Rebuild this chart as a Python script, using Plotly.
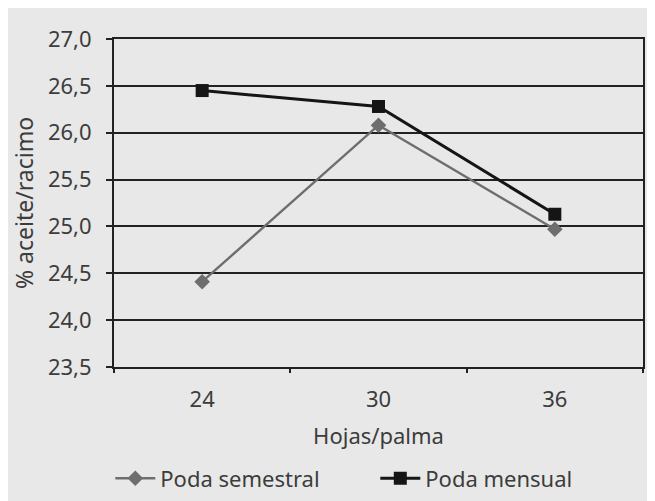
import plotly.graph_objects as go

categories = ["24", "30", "36"]
poda_semestral = [24.41, 26.08, 24.97]
poda_mensual = [26.45, 26.28, 25.13]
y_ticks = [23.5, 24.0, 24.5, 25.0, 25.5, 26.0, 26.5, 27.0]
y_ticktext = ["23,5", "24,0", "24,5", "25,0", "25,5", "26,0", "26,5", "27,0"]

FONT = "Noto Sans"
BG = "#e8e8e8"
INK = "#3c3c3c"

fig = go.Figure()
fig.add_trace(go.Scatter(
    x=categories, y=poda_semestral, name="Poda semestral",
    mode="lines+markers",
    line=dict(color="#6e6e6e", width=2.4),
    marker=dict(symbol="diamond", size=12, color="#6e6e6e"),
))
fig.add_trace(go.Scatter(
    x=categories, y=poda_mensual, name="Poda mensual",
    mode="lines+markers",
    line=dict(color="#151515", width=3),
    marker=dict(symbol="square", size=13, color="#151515"),
))

fig.update_layout(
    width=647, height=493,
    margin=dict(l=106, r=12, t=31, b=134, autoexpand=False),
    paper_bgcolor=BG, plot_bgcolor=BG,
    font=dict(family=FONT, size=22, color=INK),
    showlegend=True,
    legend=dict(orientation="h", x=-0.007, xanchor="left", y=-0.34, yanchor="middle",
                font=dict(size=22), bgcolor="rgba(0,0,0,0)", itemwidth=40,
                entrywidth=210, tracegroupgap=0),
    xaxis=dict(
        type="category", range=[-0.5, 2.5], automargin=False,
        showline=True, linecolor="#222", linewidth=2, mirror=True,
        showgrid=False, ticks="outside", tickson="boundaries", ticklen=4,
        tickcolor="#222", tickwidth=2, ticklabelstandoff=12,
        title=dict(text="Hojas/palma", font=dict(size=22), standoff=16),
        tickfont=dict(size=22),
    ),
    yaxis=dict(
        range=[23.5, 27.0], tickvals=y_ticks, ticktext=y_ticktext, automargin=False,
        showline=True, linecolor="#222", linewidth=2, mirror=True,
        showgrid=True, gridcolor="#222", gridwidth=2,
        ticks="outside", ticklen=6, tickcolor="#222", tickwidth=2,
        ticklabelstandoff=10, zeroline=False,
        title=dict(text="% aceite/racimo", font=dict(size=23), standoff=8),
        tickfont=dict(size=22),
    ),
)

fig.write_html("out.html")
